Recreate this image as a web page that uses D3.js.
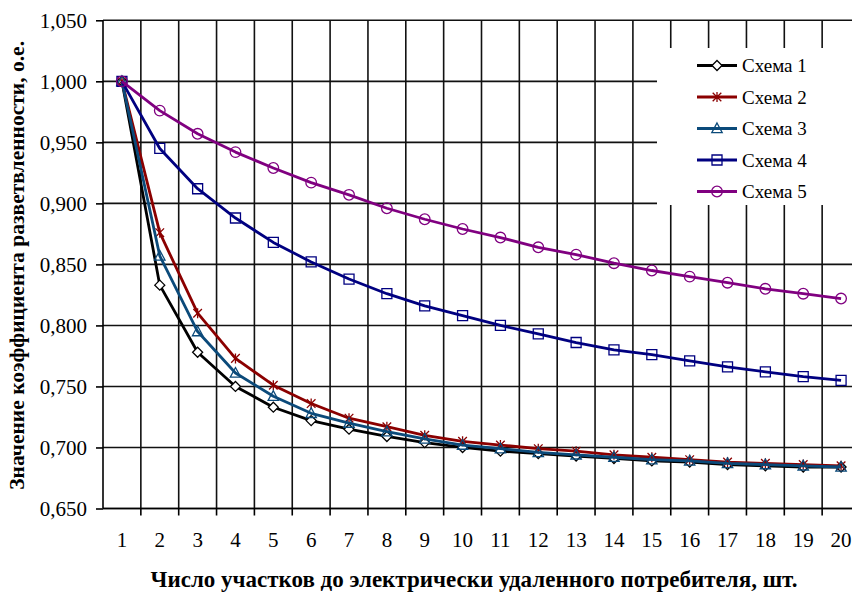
<!DOCTYPE html>
<html>
<head>
<meta charset="utf-8">
<script src="https://cdn.jsdelivr.net/npm/d3@7"></script>
<style>
  html, body { margin: 0; padding: 0; background: #fff; }
  svg { display: block; }
</style>
</head>
<body>
<svg id="chart" width="852" height="595"></svg>
<script>
// Number of sections to the electrically remote consumer
const categories = [1, 2, 3, 4, 5, 6, 7, 8, 9, 10, 11, 12, 13, 14, 15, 16, 17, 18, 19, 20];

// Branching coefficient, p.u., for each scheme
const scheme1 = [1.000, 0.833, 0.778, 0.750, 0.733, 0.722, 0.715, 0.709, 0.704, 0.700, 0.697, 0.695, 0.693, 0.691, 0.689, 0.688, 0.686, 0.685, 0.684, 0.684];
const scheme2 = [1.000, 0.876, 0.810, 0.773, 0.751, 0.736, 0.724, 0.717, 0.710, 0.705, 0.702, 0.699, 0.697, 0.694, 0.692, 0.690, 0.688, 0.687, 0.686, 0.685];
const scheme3 = [1.000, 0.857, 0.795, 0.761, 0.742, 0.728, 0.720, 0.713, 0.707, 0.702, 0.699, 0.696, 0.694, 0.692, 0.690, 0.689, 0.687, 0.686, 0.685, 0.684];
const scheme4 = [1.000, 0.945, 0.912, 0.888, 0.868, 0.852, 0.838, 0.826, 0.816, 0.808, 0.800, 0.793, 0.786, 0.780, 0.776, 0.771, 0.766, 0.762, 0.758, 0.755];
const scheme5 = [1.000, 0.976, 0.957, 0.942, 0.929, 0.917, 0.907, 0.896, 0.887, 0.879, 0.872, 0.864, 0.858, 0.851, 0.845, 0.840, 0.835, 0.830, 0.826, 0.822];

const seriesNames = ["Схема 1", "Схема 2", "Схема 3", "Схема 4", "Схема 5"];
const yTicks = [0.650, 0.700, 0.750, 0.800, 0.850, 0.900, 0.950, 1.000, 1.050];

const xTitle = "Число участков до электрически удаленного потребителя, шт.";
const yTitle = "Значение коэффициента разветвленности, о.е.";

const FONT = "'Liberation Serif', 'Times New Roman', 'DejaVu Serif', serif";

const series = [
  { name: seriesNames[0], values: scheme1, color: "#000000", marker: "diamond" },
  { name: seriesNames[1], values: scheme2, color: "#8b0000", marker: "star" },
  { name: seriesNames[2], values: scheme3, color: "#0b4a7a", marker: "triangle" },
  { name: seriesNames[3], values: scheme4, color: "#000080", marker: "square" },
  { name: seriesNames[4], values: scheme5, color: "#800080", marker: "circle" }
];

const svg = d3.select("#chart");

const plot = { left: 103, right: 860, top: 20.3, bottom: 508.5 };

const x = d3.scaleBand().domain(categories).range([plot.left, plot.right]).padding(0);
const y = d3.scaleLinear().domain([0.65, 1.05]).range([plot.bottom, plot.top]);
const cx = d => x(d) + x.bandwidth() / 2;

// Gridlines
const grid = svg.append("g").attr("class", "grid");
grid.selectAll("line.h").data(yTicks).join("line")
  .attr("class", "h")
  .attr("x1", plot.left).attr("x2", plot.right)
  .attr("y1", d => y(d)).attr("y2", d => y(d))
  .attr("stroke", "#111").attr("stroke-width", 1.6);
grid.selectAll("line.v").data(categories.slice(1).map(c => x(c)).concat([plot.right])).join("line")
  .attr("class", "v")
  .attr("x1", d => d).attr("x2", d => d)
  .attr("y1", plot.top).attr("y2", plot.bottom)
  .attr("stroke", "#111").attr("stroke-width", 1.6);

// Y axis
const yAxis = d3.axisLeft(y)
  .tickValues(yTicks)
  .tickSize(7)
  .tickPadding(9)
  .tickFormat(d => d.toFixed(3).replace(".", ","));
const gy = svg.append("g").attr("transform", `translate(${plot.left},0)`).call(yAxis)
  .attr("font-family", FONT).attr("font-size", 21);
gy.select(".domain").attr("stroke", "#000").attr("stroke-width", 1.6).attr("d", `M0,${plot.top}V${plot.bottom}`);
gy.selectAll(".tick line").attr("stroke", "#000").attr("stroke-width", 1.6);
gy.selectAll(".tick text").attr("fill", "#000");

// X axis: labels at category centres, tick marks on category boundaries
const xAxis = d3.axisBottom(x).tickSize(0).tickPadding(24);
const gx = svg.append("g").attr("transform", `translate(0,${plot.bottom})`).call(xAxis)
  .attr("font-family", FONT).attr("font-size", 21);
gx.select(".domain").attr("stroke", "#000").attr("stroke-width", 1.6).attr("d", `M${plot.left},0H${plot.right}`);
gx.selectAll(".tick text").attr("fill", "#000");
gx.selectAll("line.bound").data(categories.slice(1).map(c => x(c)).concat([plot.right])).join("line")
  .attr("class", "bound")
  .attr("x1", d => d).attr("x2", d => d)
  .attr("y1", 0).attr("y2", 7)
  .attr("stroke", "#000").attr("stroke-width", 1.6);

// Axis titles
svg.append("text")
  .attr("x", 474).attr("y", 587)
  .attr("text-anchor", "middle")
  .attr("font-family", FONT)
  .attr("font-weight", "bold").attr("font-size", 23)
  .text(xTitle);
svg.append("text")
  .attr("transform", `translate(24,${(plot.top + plot.bottom) / 2 + 1}) rotate(-90)`)
  .attr("text-anchor", "middle")
  .attr("font-family", FONT)
  .attr("font-weight", "bold").attr("font-size", 21.5)
  .text(yTitle);

// Marker shapes
const markerPath = {
  diamond: "M0,-5L5,0L0,5L-5,0Z",
  star: "M0,-5V5M-4.3,-4.3L4.3,4.3M-4.3,4.3L4.3,-4.3",
  triangle: "M0,-5.5L5.2,4.2L-5.2,4.2Z",
  square: "M-5,-5H5V5H-5Z",
  circle: d3.symbol().type(d3.symbolCircle).size(Math.PI * 5.3 * 5.3)()
};
const markerFill = { diamond: "#fff", star: "none", triangle: "none", square: "none", circle: "none" };

const line = d3.line().x((d, i) => cx(categories[i])).y(d => y(d));

const gSeries = svg.append("g").attr("class", "series");
series.forEach(s => {
  const g = gSeries.append("g");
  g.append("path")
    .attr("d", line(s.values))
    .attr("fill", "none")
    .attr("stroke", s.color)
    .attr("stroke-width", 2.8)
    .attr("stroke-linejoin", "round");
  g.selectAll("path.m").data(s.values).join("path")
    .attr("class", "m")
    .attr("d", markerPath[s.marker])
    .attr("transform", (d, i) => `translate(${cx(categories[i])},${y(d)})`)
    .attr("fill", markerFill[s.marker])
    .attr("stroke", s.color)
    .attr("stroke-width", 1.3);
});

// Legend
const legend = svg.append("g").attr("class", "legend");
legend.append("rect")
  .attr("x", 657).attr("y", 48).attr("width", 210).attr("height", 157)
  .attr("fill", "#fff");
const rowY = d3.scalePoint().domain(seriesNames).range([65.5, 191.5]);
series.forEach(s => {
  const ly = rowY(s.name);
  legend.append("line")
    .attr("x1", 697).attr("x2", 737).attr("y1", ly).attr("y2", ly)
    .attr("stroke", s.color).attr("stroke-width", 2.8);
  legend.append("path")
    .attr("d", markerPath[s.marker])
    .attr("transform", `translate(717,${ly})`)
    .attr("fill", markerFill[s.marker])
    .attr("stroke", s.color).attr("stroke-width", 1.3);
  legend.append("text")
    .attr("x", 742).attr("y", ly).attr("dy", "0.35em")
    .attr("font-family", FONT)
    .attr("font-size", 19)
    .text(s.name);
});
</script>
</body>
</html>
